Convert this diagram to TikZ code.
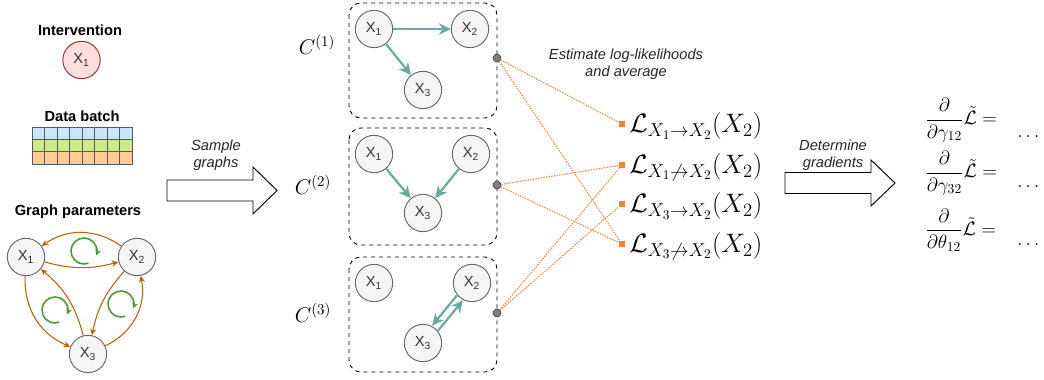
\RequirePackage{fix-cm}
\documentclass[tikz,border=0pt]{standalone}
\usepackage{amsmath}
\usepackage[no-math]{fontspec}
\usepackage{tikz}
\usetikzlibrary{arrows.meta}
\newfontfamily\helv{Liberation Sans}
\newcommand{\xv}[1]{X\textsubscript{#1}}
\definecolor{nodefill}{HTML}{F5F5F5}
\definecolor{nodeline}{HTML}{666666}
\definecolor{nodetext}{HTML}{333333}
\definecolor{intfill}{HTML}{FFDEDE}
\definecolor{intline}{HTML}{9B2A2A}
\definecolor{paramc}{HTML}{B46504}
\definecolor{loopc}{HTML}{4D9A2F}
\definecolor{tealc}{HTML}{67AB9F}
\definecolor{likec}{HTML}{F58A3C}
\definecolor{sqc}{HTML}{F08633}
\definecolor{rowa}{HTML}{CCE5FF}
\definecolor{rowb}{HTML}{CDEB8B}
\definecolor{rowc}{HTML}{FFCC99}
\begin{document}
\begin{tikzpicture}[x=0.75pt, y=0.75pt,
	var/.style={circle, draw=nodeline, fill=nodefill, text=nodetext, minimum size=28pt, inner sep=0pt, line width=0.7pt, font=\helv\fontsize{11}{12}\selectfont},
	title/.style={font=\helv\bfseries\fontsize{11}{13}\selectfont},
	note/.style={font=\helv\itshape\fontsize{11}{12.5}\selectfont, align=center, text=black!85},
	edge/.style={draw=tealc, line width=1.6pt, -{Stealth[length=9pt,width=8.5pt]}},
	param/.style={draw=paramc, line width=0.8pt, -{Stealth[length=5pt,width=4.5pt]}},
	turn/.style={draw=loopc, line width=1.2pt, -{Stealth[length=4.5pt,width=4.5pt]}},
	graphbox/.style={draw, dashed, rounded corners=9pt, line width=0.7pt},
	port/.style={circle, draw=black!80, fill=black!50, minimum size=6pt, inner sep=0pt},
	sq/.style={rectangle, fill=sqc, minimum size=4.5pt, inner sep=0pt},
	like/.style={draw=likec, line width=0.9pt, dash pattern=on 1pt off 1pt},
	blockarr/.style={draw, line width=0.7pt, fill=white},
	cfont/.style={font=\fontsize{16}{18}\selectfont},
	lfont/.style={font=\fontsize{20}{22}\selectfont, inner sep=0pt},
	gfont/.style={font=\fontsize{14.5}{17}\selectfont, inner sep=0pt}]
	\useasboundingbox (0,0) rectangle (1044,-379);

	\node[title] (t1) at (80,-30) {Intervention};
	\node[var, fill=intfill, draw=intline] (i1) at (81.5,-60) {\xv{1}};
	\node[title] (t2) at (82,-116) {Data batch};
	\foreach \c [count=\r from 0] in {rowa,rowb,rowc}
		\foreach \i in {0,...,7}
			\draw[draw=black!65, fill=\c, line width=0.5pt] (32+12.5*\i,-127-12.3*\r) rectangle ++(12.5,-12.3);
	\node[title] (t3) at (78,-212) {Graph parameters};
	\node[var] (p1) at (26,-257) {\xv{1}};
	\node[var] (p2) at (137,-257) {\xv{2}};
	\node[var] (p3) at (88,-354) {\xv{3}};
	\draw[param] (p2) to[bend right=35] (p1);
	\draw[param] (p1) to[bend right=15] (p2);
	\draw[param] (p1) to[bend right=35] (p3);
	\draw[param] (p3) to[bend right=18] (p1);
	\draw[param] (p2) to[bend right=15] (p3);
	\draw[param] (p3) to[bend right=38] (p2);
	\draw[turn] (84,-251) ++(290:13) arc[start angle=290, end angle=-20, radius=13];
	\draw[turn] (55,-310) ++(290:13) arc[start angle=290, end angle=-20, radius=13];
	\draw[turn] (121,-304) ++(290:13) arc[start angle=290, end angle=-20, radius=13];

	\draw[blockarr] (167,-180) -- (253,-180) -- (253,-167) -- (277,-190.5) -- (253,-214) -- (253,-201) -- (167,-201) -- cycle;
	\node[note] (n1) at (216,-155) {Sample\\graphs};

	\node[cfont] (cl1) at (317,-45) {$C^{(1)}$};
	\node[cfont] (cl2) at (313,-185) {$C^{(2)}$};
	\node[cfont] (cl3) at (313,-313) {$C^{(3)}$};
	\draw[graphbox] (349,-3) rectangle (497,-118);
	\draw[graphbox] (349,-128) rectangle (497,-245);
	\draw[graphbox] (349,-257) rectangle (497,-372);

	\node[var] (a1) at (374,-29) {\xv{1}};
	\node[var] (a2) at (470,-29) {\xv{2}};
	\node[var] (a3) at (423,-90) {\xv{3}};
	\draw[edge] (a1) -- (a2);
	\draw[edge] (a1) -- (a3);
	\node[var] (b1) at (374,-154) {\xv{1}};
	\node[var] (b2) at (471,-154) {\xv{2}};
	\node[var] (b3) at (423,-213) {\xv{3}};
	\draw[edge] (b1) -- (b3);
	\draw[edge] (b2) -- (b3);
	\node[var] (c1) at (374,-283) {\xv{1}};
	\node[var] (c2) at (472,-283) {\xv{2}};
	\node[var] (c3) at (423,-343) {\xv{3}};
	\draw[edge] ([shift={(3,-2.5)}]c3.51) -- ([shift={(3,-2.5)}]c2.231);
	\draw[edge] ([shift={(-3,2.5)}]c2.231) -- ([shift={(-3,2.5)}]c3.51);

	\node[port] (d1) at (497,-58) {};
	\node[port] (d2) at (497,-185) {};
	\node[port] (d3) at (497,-313) {};
	\node[note] (n2) at (626,-64) {Estimate log-likelihoods\\and average};
	\node[sq] (s1) at (622,-124) {};
	\node[sq] (s2) at (622,-165) {};
	\node[sq] (s3) at (622,-204) {};
	\node[sq] (s4) at (622,-244) {};
	\node[lfont, anchor=west] (l1) at (629,-126) {$\mathcal{L}_{X_1\to X_2}(X_2)$};
	\node[lfont, anchor=west] (l2) at (629,-167) {$\mathcal{L}_{X_1\not\to X_2}(X_2)$};
	\node[lfont, anchor=west] (l3) at (629,-206) {$\mathcal{L}_{X_3\to X_2}(X_2)$};
	\node[lfont, anchor=west] (l4) at (629,-246) {$\mathcal{L}_{X_3\not\to X_2}(X_2)$};
	\draw[like] (d1) -- (s1);
	\draw[like] (d1) -- (s4);
	\draw[like] (d2) -- (s2);
	\draw[like] (d2) -- (s4);
	\draw[like] (d3) -- (s2);
	\draw[like] (d3) -- (s3);

	\draw[blockarr] (785,-172.5) -- (871,-172.5) -- (871,-160) -- (895,-183) -- (871,-206) -- (871,-193.5) -- (785,-193.5) -- cycle;
	\node[note] (n3) at (833,-155) {Determine\\gradients};

	\node[gfont, anchor=west] (g1) at (925,-120) {$\displaystyle\frac{\partial}{\partial\gamma_{12}}\tilde{\mathcal{L}} =$};
	\node[gfont, anchor=west] (g2) at (925,-173) {$\displaystyle\frac{\partial}{\partial\gamma_{32}}\tilde{\mathcal{L}} =$};
	\node[gfont, anchor=west] (g3) at (925,-230) {$\displaystyle\frac{\partial}{\partial\theta_{12}}\tilde{\mathcal{L}} =$};
	\node[gfont] (e1) at (1030,-137) {$\dots$};
	\node[gfont] (e2) at (1030,-187) {$\dots$};
	\node[gfont] (e3) at (1030,-245) {$\dots$};
\end{tikzpicture}
\end{document}
